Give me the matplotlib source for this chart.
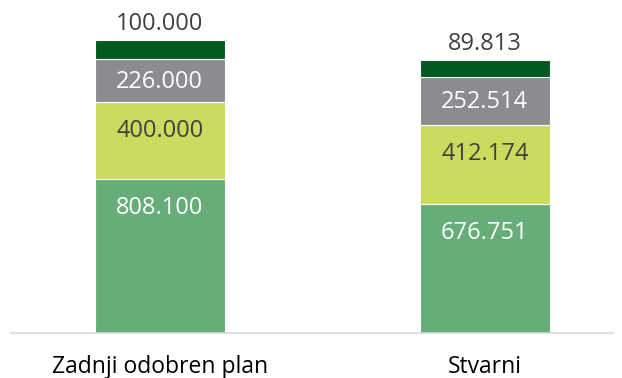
import matplotlib.pyplot as plt
import numpy as np

plt.rcParams['font.family'] = ['Open Sans', 'DejaVu Sans']

categories = ["Zadnji odobren plan", "Stvarni"]
seg1 = [808.100, 676.751]
seg2 = [400.000, 412.174]
seg3 = [226.000, 252.514]
seg4 = [100.000, 89.813]

colors = ["#66ad7a", "#cbdb5e", "#8b8c8f", "#005a1e"]
text_colors = ["white", "#404040", "white", None]


def fmt(v):
    return f"{v:.3f}"


fig = plt.figure(figsize=(6.22, 3.78), dpi=100)
ax = fig.add_axes([11 / 622, 45 / 378, 602 / 622, 333 / 378])

ylim_top = 1743.5
px_per_unit = 333 / ylim_top

x = np.arange(len(categories))
bottom = np.zeros(len(categories))
for vals, c, tc in zip([seg1, seg2, seg3, seg4], colors, text_colors):
    vals = np.array(vals)
    ax.bar(x, vals, width=0.4, bottom=bottom, color=c, edgecolor="white", linewidth=0.8)
    for xi, b, v in zip(x, bottom, vals):
        top = b + v
        if tc is None:
            # small top segment gets its label above the bar
            ax.annotate(fmt(v), (xi, top), xytext=(0, 9.5), textcoords="offset pixels",
                        ha="center", va="baseline", fontsize=17, color="#404040")
        else:
            h = v * px_per_unit
            dy = min(35, h / 2 + 7)
            ax.annotate(fmt(v), (xi, top), xytext=(0, -dy), textcoords="offset pixels",
                        ha="center", va="baseline", fontsize=17, color=tc)
    bottom += vals

for xi, name in zip(x, categories):
    ax.annotate(name, (xi, 0), xycoords=("data", "axes fraction"),
                xytext=(0, -40), textcoords="offset pixels",
                ha="center", va="baseline", fontsize=16.5, color="black",
                annotation_clip=False)

ax.set_xlim(-0.458, 1.394)
ax.set_ylim(0, ylim_top)
ax.set_xticks([])
ax.set_yticks([])
for s in ["top", "right", "left"]:
    ax.spines[s].set_visible(False)
ax.spines["bottom"].set_color("#d9d9d9")
ax.spines["bottom"].set_linewidth(1.2)

fig.savefig("out.png", dpi=100)
